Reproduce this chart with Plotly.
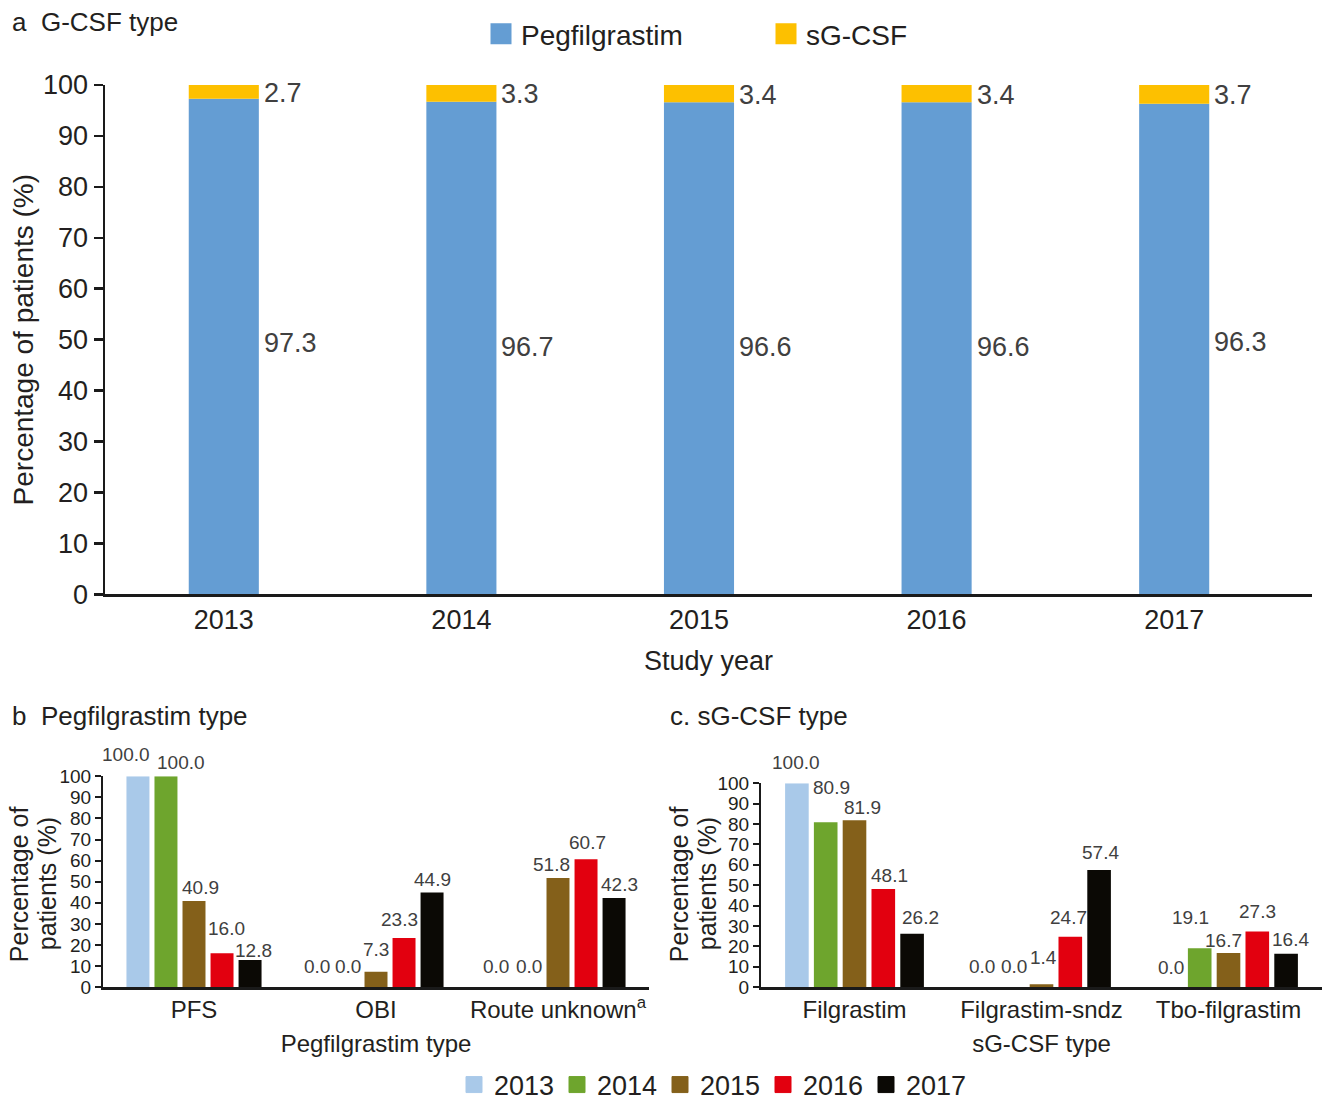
import plotly.graph_objects as go

# ---------------- data ----------------
study_years = ["2013", "2014", "2015", "2016", "2017"]
pegfilgrastim_pct = [97.3, 96.7, 96.6, 96.6, 96.3]
sgcsf_pct = [2.7, 3.3, 3.4, 3.4, 3.7]

peg_types = ["PFS", "OBI", "Route unknown<sup>a</sup>"]
peg_2013 = [100.0, 0.0, 0.0]
peg_2014 = [100.0, 0.0, 0.0]
peg_2015 = [40.9, 7.3, 51.8]
peg_2016 = [16.0, 23.3, 60.7]
peg_2017 = [12.8, 44.9, 42.3]

sg_types = ["Filgrastim", "Filgrastim-sndz", "Tbo-filgrastim"]
sg_2013 = [100.0, 0.0, 0.0]
sg_2014 = [80.9, 0.0, 19.1]
sg_2015 = [81.9, 1.4, 16.7]
sg_2016 = [48.1, 24.7, 27.3]
sg_2017 = [26.2, 57.4, 16.4]

peg_by_year = [peg_2013, peg_2014, peg_2015, peg_2016, peg_2017]
sg_by_year = [sg_2013, sg_2014, sg_2015, sg_2016, sg_2017]

# ---------------- style ----------------
W, H = 1326, 1102          # reference frame (pixels)
FIG_H = 1110               # rendered figure height (fills the viewport)
FONT = "Liberation Sans, Arial, Helvetica, sans-serif"
TXT = "#231f20"
LBL = "#404040"
AXC = "#1a1a1a"
C_PEG = "#649dd3"
C_SG = "#fdc000"
YEAR_COLORS = ["#a9c9e9", "#6ea52d", "#84601a", "#e2000f", "#0b0905"]

BAR_A_W = 0.295
BARGAP = 0.23
BARGROUPGAP = 0.18
SLOT = (1 - BARGAP) / 5

# label offsets in pixels (x shift, y shift above bar top)
a_peg_dy = [4, 1, 1, 1, 7]
b_dx = [[-12, -3, -6], [15, 0, -1], [6, 0, -7], [4, -5, 1], [3, 0, 5]]
b_dy = [[22, 21, 21], [14, 21, 21], [13, 22, 13], [25, 18, 17], [10, 13, 13]]
c_dx = [[-1, -2, 0], [6, 1, -9], [8, 2, -5], [6, -2, 0], [8, 1, 4]]
c_dy = [[21, 21, 20], [35, 21, 31], [13, 27, 13], [14, 19, 20], [16, 18, 14]]


def px(a):
    return a / W


def py(a):
    return 1 - a / H


def xd(a, b):
    return [px(a), px(b)]


def yd(top, bottom):
    return [py(bottom), py(top)]


fig = go.Figure()

# ---- panel a ----
fig.add_trace(go.Bar(x=study_years, y=pegfilgrastim_pct, name="Pegfilgrastim",
                     marker=dict(color=C_PEG, line=dict(width=0)), width=BAR_A_W,
                     offsetgroup="a", xaxis="x", yaxis="y", showlegend=False,
                     hoverinfo="skip"))
fig.add_trace(go.Bar(x=study_years, y=sgcsf_pct, base=pegfilgrastim_pct, name="sG-CSF",
                     marker=dict(color=C_SG, line=dict(width=0)), width=BAR_A_W,
                     offsetgroup="a", xaxis="x", yaxis="y", showlegend=False,
                     hoverinfo="skip"))
for nm, col in [("Pegfilgrastim", C_PEG), ("sG-CSF", C_SG)]:
    fig.add_trace(go.Scatter(x=[None], y=[None], mode="markers", name=nm,
                             marker=dict(symbol="square", size=16, color=col,
                                         line=dict(width=6, color=col)),
                             xaxis="x", yaxis="y", legend="legend", hoverinfo="skip"))

# ---- panels b and c ----
for i, yr in enumerate(study_years):
    fig.add_trace(go.Bar(x=peg_types, y=peg_by_year[i], name=yr,
                         marker=dict(color=YEAR_COLORS[i], line=dict(width=0)),
                         xaxis="x2", yaxis="y2", showlegend=False, hoverinfo="skip"))
    fig.add_trace(go.Bar(x=sg_types, y=sg_by_year[i], name=yr,
                         marker=dict(color=YEAR_COLORS[i], line=dict(width=0)),
                         xaxis="x3", yaxis="y3", showlegend=False, hoverinfo="skip"))
    fig.add_trace(go.Scatter(x=[None], y=[None], mode="markers", name=yr,
                             marker=dict(symbol="square", size=16, color=YEAR_COLORS[i],
                                         line=dict(width=1, color=YEAR_COLORS[i])),
                             xaxis="x2", yaxis="y2", legend="legend2", hoverinfo="skip"))

annotations = []
for k in range(len(study_years)):
    annotations.append(dict(x=k + BAR_A_W / 2, y=pegfilgrastim_pct[k] / 2, xref="x", yref="y",
                            text=f"{pegfilgrastim_pct[k]:.1f}", showarrow=False,
                            xanchor="left", yanchor="middle", xshift=3, yshift=a_peg_dy[k],
                            font=dict(size=27, color=LBL, family=FONT)))
    annotations.append(dict(x=k + BAR_A_W / 2, y=pegfilgrastim_pct[k] + sgcsf_pct[k] / 2,
                            xref="x", yref="y",
                            text=f"{sgcsf_pct[k]:.1f}", showarrow=False,
                            xanchor="left", yanchor="middle", xshift=3, yshift=-1,
                            font=dict(size=27, color=LBL, family=FONT)))

for data, dx, dy, xr, yr_ in [(peg_by_year, b_dx, b_dy, "x2", "y2"),
                              (sg_by_year, c_dx, c_dy, "x3", "y3")]:
    for i in range(5):
        for g in range(3):
            v = data[i][g]
            annotations.append(dict(x=g + (i - 2) * SLOT, y=v, xref=xr, yref=yr_,
                                    text=f"{v:.1f}", showarrow=False,
                                    xanchor="center", yanchor="middle",
                                    xshift=dx[i][g], yshift=dy[i][g],
                                    font=dict(size=19, color=LBL, family=FONT)))

# panel titles
for txt, x0, y0 in [("a  G-CSF type", 12, 22), ("b  Pegfilgrastim type", 12, 717),
                    ("c. sG-CSF type", 670, 717)]:
    annotations.append(dict(x=px(x0), y=py(y0), xref="paper", yref="paper", text=txt,
                            showarrow=False, xanchor="left", yanchor="middle", xshift=-2,
                            font=dict(size=26, color=TXT, family=FONT)))

# y titles for panels b and c (two lines each)
for x1, x2, yc in [(19, 47, 885), (679, 707, 885)]:
    for txt, xx in [("Percentage of", x1), ("patients (%)", x2)]:
        annotations.append(dict(x=px(xx), y=py(yc), xref="paper", yref="paper", text=txt,
                                textangle=-90, showarrow=False, xanchor="center",
                                yanchor="middle", font=dict(size=25, color=TXT, family=FONT)))

axis_common = dict(showgrid=False, zeroline=False, showline=True, automargin=False,
                   fixedrange=True)

fig.update_layout(
    width=W, height=FIG_H, autosize=False,
    margin=dict(l=0, r=0, t=0, b=0),
    paper_bgcolor="white", plot_bgcolor="white",
    font=dict(family=FONT, color=TXT),
    hovermode=False,
    barmode="group", bargap=BARGAP, bargroupgap=BARGROUPGAP,
    annotations=annotations,
    xaxis=dict(axis_common, domain=xd(105, 1312), anchor="y", type="category",
               range=[-0.5, 4.58], linecolor=AXC, linewidth=2.5, ticks="",
               tickfont=dict(size=27, color=TXT), ticklabelstandoff=0,
               title=dict(text="Study year", font=dict(size=27, color=TXT), standoff=17)),
    yaxis=dict(axis_common, domain=yd(85, 595), anchor="x", range=[0, 100], dtick=10,
               linecolor=AXC, linewidth=2.5, ticks="outside", ticklen=9, tickwidth=2.5,
               tickcolor=AXC, tickfont=dict(size=27, color=TXT),
               title=dict(text="Percentage of patients (%)", font=dict(size=28, color=TXT),
                          standoff=1)),
    xaxis2=dict(axis_common, domain=xd(103, 649), anchor="y2", type="category",
                range=[-0.5, 2.5], linecolor=AXC, linewidth=2.5, ticks="",
                tickfont=dict(size=24, color=TXT), ticklabelstandoff=0,
                title=dict(text="Pegfilgrastim type", font=dict(size=24, color=TXT), standoff=13)),
    yaxis2=dict(axis_common, domain=yd(777, 988), anchor="x2", range=[0, 100], dtick=10,
                linecolor=AXC, linewidth=2, ticks="outside", ticklen=6, tickwidth=2,
                tickcolor=AXC, tickfont=dict(size=19, color=TXT)),
    xaxis3=dict(axis_common, domain=xd(761, 1322), anchor="y3", type="category",
                range=[-0.5, 2.5], linecolor=AXC, linewidth=2.5, ticks="",
                tickfont=dict(size=24, color=TXT), ticklabelstandoff=0,
                title=dict(text="sG-CSF type", font=dict(size=24, color=TXT), standoff=13)),
    yaxis3=dict(axis_common, domain=yd(784, 988), anchor="x3", range=[0, 100], dtick=10,
                linecolor=AXC, linewidth=2, ticks="outside", ticklen=6, tickwidth=2,
                tickcolor=AXC, tickfont=dict(size=19, color=TXT)),
    legend=dict(orientation="h", x=px(481), xanchor="left", y=py(34), yanchor="middle",
                font=dict(size=28, color=TXT, family=FONT), bgcolor="rgba(0,0,0,0)",
                entrywidth=240, entrywidthmode="pixels", itemclick=False,
                itemdoubleclick=False),
    legend2=dict(orientation="h", x=px(454), xanchor="left", y=py(1086),
                 yanchor="middle", font=dict(size=27, color=TXT, family=FONT),
                 bgcolor="rgba(0,0,0,0)", entrywidth=58, entrywidthmode="pixels",
                 itemclick=False, itemdoubleclick=False),
)

post = (
    "var gd=document.getElementById('{plot_id}');"
    "var de=document.documentElement, b=document.body;"
    "de.style.margin='0';de.style.padding='0';de.style.overflow='hidden';"
    "b.style.margin='0';b.style.padding='0';b.style.overflow='hidden';"
    "if(gd&&gd.parentElement){gd.parentElement.style.height='" + str(FIG_H) + "px';"
    "gd.parentElement.style.width='" + str(W) + "px';gd.parentElement.style.overflow='hidden';}"
    "if(gd){gd.style.overflow='hidden';}"
)
fig.write_html("out.html", config={"displayModeBar": False, "staticPlot": True},
               post_script=post)
